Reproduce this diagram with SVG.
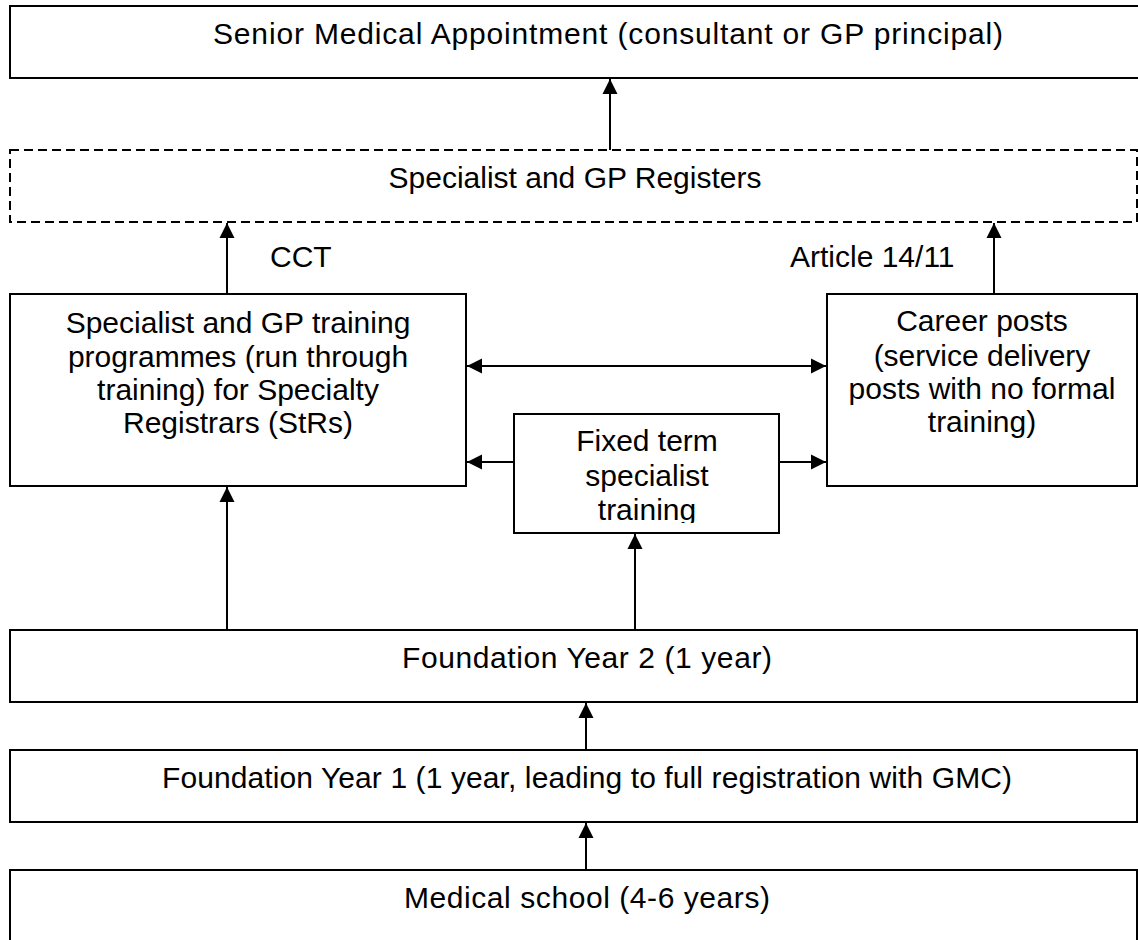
<svg xmlns="http://www.w3.org/2000/svg" width="1138" height="940" viewBox="0 0 1138 940">
<defs>
<style>
.box{fill:#fff;stroke:#000;stroke-width:2}
.dash{fill:#fff;stroke:#000;stroke-width:2;stroke-dasharray:9 5}
.t{font-family:"Liberation Sans",Arial,sans-serif;font-size:30px;fill:#000;text-anchor:middle}
.tl{font-family:"Liberation Sans",Arial,sans-serif;font-size:30px;fill:#000}
.c{stroke:#000;stroke-width:2;fill:none}
</style>
<marker id="ah" markerUnits="userSpaceOnUse" markerWidth="16" markerHeight="16" refX="15" refY="7.5" orient="auto-start-reverse" viewBox="0 0 16 15">
<path d="M0,0 L15,7.5 L0,15 z" fill="#000"/>
</marker>
<clipPath id="fixclip"><rect x="514" y="414" width="265" height="109"/></clipPath>
</defs>
<rect width="1138" height="940" fill="#fff"/>
<g id="senior">
<rect class="box" x="10" y="6" width="1200" height="72"/>
<text class="t" x="608" y="44" textLength="790">Senior Medical Appointment (consultant or GP principal)</text>
</g>
<g id="registers">
<rect class="dash" x="10" y="150" width="1127" height="72"/>
<text class="t" x="575" y="188">Specialist and GP Registers</text>
</g>
<g id="training">
<rect class="box" x="10" y="294" width="456" height="192"/>
<text class="t" x="238" y="333">Specialist and GP training</text>
<text class="t" x="238" y="367">programmes (run through</text>
<text class="t" x="238" y="400">training) for Specialty</text>
<text class="t" x="238" y="433">Registrars (StRs)</text>
</g>
<g id="career">
<rect class="box" x="827" y="294" width="310" height="192"/>
<text class="t" x="982" y="331">Career posts</text>
<text class="t" x="982" y="366">(service delivery</text>
<text class="t" x="982" y="399">posts with no formal</text>
<text class="t" x="982" y="432">training)</text>
</g>
<g id="fixed">
<rect class="box" x="514" y="414" width="265" height="119"/>
<g clip-path="url(#fixclip)">
<text class="t" x="647" y="451">Fixed term</text>
<text class="t" x="647" y="486">specialist</text>
<text class="t" x="647" y="520">training</text>
</g>
</g>
<g id="fy2">
<rect class="box" x="10" y="630" width="1127" height="72"/>
<text class="t" x="587" y="668" textLength="370">Foundation Year 2 (1 year)</text>
</g>
<g id="fy1">
<rect class="box" x="10" y="750" width="1127" height="72"/>
<text class="t" x="587" y="788" textLength="850">Foundation Year 1 (1 year, leading to full registration with GMC)</text>
</g>
<g id="medschool">
<rect class="box" x="10" y="870" width="1127" height="90"/>
<text class="t" x="587" y="908" textLength="366">Medical school (4-6 years)</text>
</g>
<g id="connectors">
<line class="c" x1="610" y1="150" x2="610" y2="79" marker-end="url(#ah)"/>
<line class="c" x1="227" y1="294" x2="227" y2="223" marker-end="url(#ah)"/>
<line class="c" x1="994" y1="294" x2="994" y2="223" marker-end="url(#ah)"/>
<line class="c" x1="467" y1="366" x2="826" y2="366" marker-start="url(#ah)" marker-end="url(#ah)"/>
<line class="c" x1="514" y1="462" x2="467" y2="462" marker-end="url(#ah)"/>
<line class="c" x1="779" y1="462" x2="826" y2="462" marker-end="url(#ah)"/>
<line class="c" x1="227" y1="630" x2="227" y2="487" marker-end="url(#ah)"/>
<line class="c" x1="635" y1="630" x2="635" y2="534" marker-end="url(#ah)"/>
<line class="c" x1="586" y1="750" x2="586" y2="703" marker-end="url(#ah)"/>
<line class="c" x1="586" y1="870" x2="586" y2="823" marker-end="url(#ah)"/>
<text class="tl" x="270" y="267">CCT</text>
<text class="tl" x="790" y="267">Article 14/11</text>
</g>
</svg>
